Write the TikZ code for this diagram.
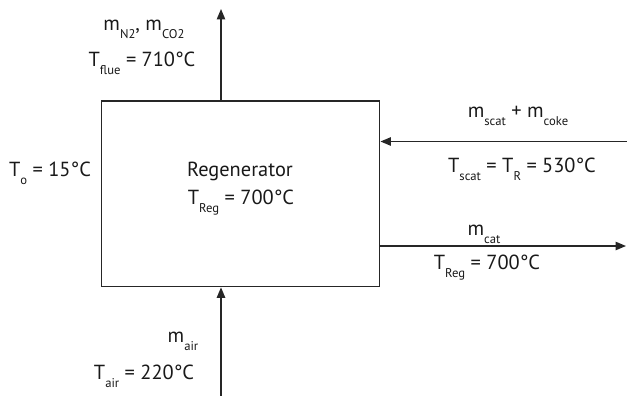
\documentclass[tikz,border=0pt]{standalone}
\usepackage{fontspec}
\setmainfont{PT Sans}
\usepackage{tikz}
\usetikzlibrary{arrows.meta,positioning,calc}

\newcommand{\lowsub}[1]{\raisebox{-0.8ex}{\fontsize{9}{9}\selectfont #1}}

\tikzset{
    flow/.style={line width=0.9pt, draw=black!85, -{Triangle[length=2.6mm,width=2.1mm]}},
    tag/.style={font=\fontsize{14.5}{17}\selectfont, inner sep=0pt, text=black!90}
}

\begin{document}
\begin{tikzpicture}[x=0.025cm, y=-0.025cm]
    \useasboundingbox (0,0) rectangle (627,396);

    % Unit
    \node (regen) [rectangle, draw=black!85, line width=0.9pt, minimum width=6.95cm, minimum height=4.64cm, inner sep=0pt] at (240.8,193.9) {};
    \node (regname) [tag] at (240,171) {Regenerator};
    \node (regtemp) [tag] at (241,203) {T\lowsub{Reg} = 700°C};
    \node (tamb) [tag] at (50,173) {T\lowsub{o} = 15°C};

    % Stream ends
    \coordinate (flueend) at (221,9);
    \coordinate (airin) at (221,396);
    \coordinate (feedin) at (627,141.5);
    \coordinate (catout) at (626,246);

    % Labels
    \node (fluem) [tag] at (144,29) {m\lowsub{N2}, m\lowsub{CO2}};
    \node (fluet) [tag] at (142,63) {T\lowsub{flue} = 710°C};
    \node (feedm) [tag] at (518,116) {m\lowsub{scat} + m\lowsub{coke}};
    \node (feedt) [tag] at (522,169) {T\lowsub{scat} = T\lowsub{R} = 530°C};
    \node (catm) [tag] at (484,234) {m\lowsub{cat}};
    \node (catt) [tag] at (487,268) {T\lowsub{Reg} = 700°C};
    \node (airm) [tag] at (183,341) {m\lowsub{air}};
    \node (airt) [tag] at (144,376) {T\lowsub{air} = 220°C};

    % Arrows
    \draw [flow] (regen.north -| flueend) -- (flueend);
    \draw [flow] (airin) -- (airin |- regen.south);
    \draw [flow] (feedin) -- (feedin -| regen.east);
    \draw [flow] (catout -| regen.east) -- (catout);
\end{tikzpicture}
\end{document}
